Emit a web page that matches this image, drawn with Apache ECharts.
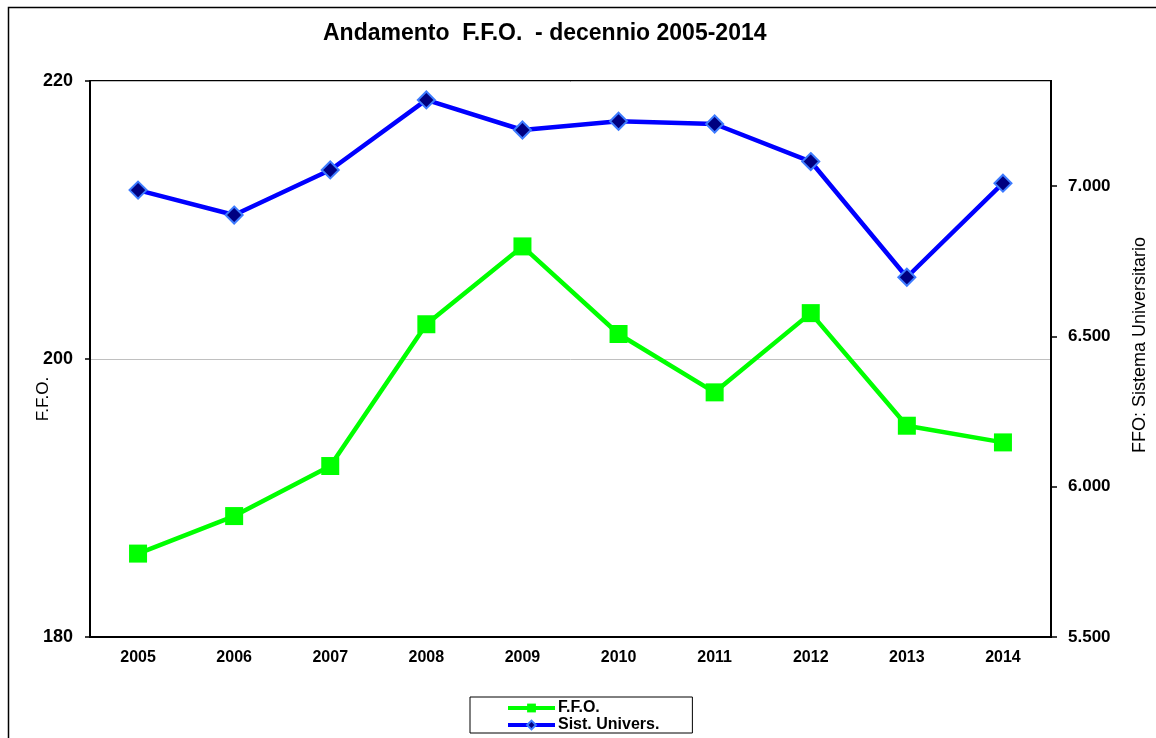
<!DOCTYPE html>
<html>
<head>
<meta charset="utf-8">
<title>Andamento F.F.O.</title>
<script src="https://cdn.jsdelivr.net/npm/echarts@6/dist/echarts.min.js"></script>
<style>
    html, body { margin: 0; padding: 0; background: #fff; }
    #chart { width: 1156px; height: 738px; }
</style>
</head>
<body>
<div id="chart"></div>
<script>
    // anni del decennio
    var years = ['2005', '2006', '2007', '2008', '2009', '2010', '2011', '2012', '2013', '2014'];
    // F.F.O. ateneo (asse sinistro)
    var ffo = [186.0, 188.7, 192.3, 202.5, 208.1, 201.8, 197.6, 203.3, 195.2, 194.0];
    // FFO sistema universitario (asse destro)
    var sistema = [6987, 6904, 7054, 7287, 7187, 7216, 7207, 7082, 6697, 7010];

    var font = 'Arial, "Liberation Sans", sans-serif';

    // 7000 -> "7.000"
    function formatMigliaia(v) {
        return String(Math.round(v)).replace(/\B(?=(\d{3})+(?!\d))/g, '.');
    }

    var chart = echarts.init(document.getElementById('chart'));
    var option = {
        backgroundColor: '#fff',
        animation: false,
        textStyle: { fontFamily: font },
        graphic: [{
            type: 'rect',
            shape: { x: 8.5, y: 7.5, width: 1170, height: 760 },
            style: { fill: 'none', stroke: '#000', lineWidth: 1.5 },
            silent: true
        }],
        title: {
            text: 'Andamento  F.F.O.  - decennio 2005-2014',
            left: 323,
            top: 22,
            padding: 0,
            textStyle: { fontSize: 23, fontWeight: 'bold', color: '#000', fontFamily: font }
        },
        legend: {
            data: ['F.F.O.', 'Sist. Univers.'],
            orient: 'vertical',
            left: 470,
            top: 697,
            itemWidth: 47,
            itemHeight: 11,
            itemGap: 1,
            padding: [3, 33, 0, 36],
            borderColor: '#000',
            borderWidth: 1,
            lineStyle: { width: 4 },
            textStyle: { fontSize: 16, fontWeight: 'bold', color: '#000', padding: [0, 0, 0, -2] }
        },
        grid: {
            left: 90,
            right: 105,
            top: 81,
            bottom: 101,
            outerBoundsMode: 'none',
            show: true,
            borderColor: '#000',
            borderWidth: 2
        },
        xAxis: {
            type: 'category',
            data: years,
            boundaryGap: true,
            axisLine: { lineStyle: { color: '#000', width: 2 } },
            axisTick: { interval: 0, length: 6, lineStyle: { color: '#000', width: 1.5 } },
            axisLabel: { fontSize: 16, fontWeight: 'bold', color: '#000', margin: 13, interval: 0 }
        },
        yAxis: [{
            type: 'value',
            min: 180,
            max: 220,
            interval: 20,
            position: 'left',
            name: 'F.F.O.',
            nameLocation: 'middle',
            nameRotate: 90,
            nameGap: 38,
            nameMoveOverlap: false,
            nameTextStyle: { fontSize: 17, color: '#000', padding: [0, 80, 0, 0] },
            axisLine: { show: true, lineStyle: { color: '#000', width: 2 } },
            axisTick: { show: true, length: 5, lineStyle: { color: '#000', width: 1.5 } },
            axisLabel: { fontSize: 18, fontWeight: 'bold', color: '#000', margin: 17 },
            splitLine: { show: true, lineStyle: { color: '#c0c0c0', width: 1 } }
        }, {
            type: 'value',
            min: 5500,
            max: 7350,
            interval: 500,
            position: 'right',
            name: 'FFO: Sistema Universitario',
            nameLocation: 'middle',
            nameRotate: 90,
            nameGap: 80,
            nameMoveOverlap: false,
            nameTextStyle: { fontSize: 18, color: '#000', padding: [0, 0, 0, 28] },
            axisLine: { show: true, lineStyle: { color: '#000', width: 2 } },
            axisTick: { show: true, length: 6, lineStyle: { color: '#000', width: 1.5 } },
            axisLabel: {
                fontSize: 17, fontWeight: 'bold', color: '#000', margin: 17,
                showMaxLabel: false,
                formatter: formatMigliaia
            },
            splitLine: { show: false }
        }],
        series: [{
            name: 'Sist. Univers.',
            type: 'line',
            yAxisIndex: 1,
            data: sistema,
            symbol: 'diamond',
            symbolSize: 17,
            lineStyle: { color: '#0000ff', width: 4.5 },
            itemStyle: { color: '#000080', borderColor: '#3d7bff', borderWidth: 2 }
        }, {
            name: 'F.F.O.',
            type: 'line',
            yAxisIndex: 0,
            data: ffo,
            symbol: 'rect',
            symbolSize: 18,
            lineStyle: { color: '#00ff00', width: 4.5 },
            itemStyle: { color: '#00ff00' }
        }]
    };
    chart.setOption(option);
    window.addEventListener('resize', function () {
        chart.resize();
    });
</script>
</body>
</html>
